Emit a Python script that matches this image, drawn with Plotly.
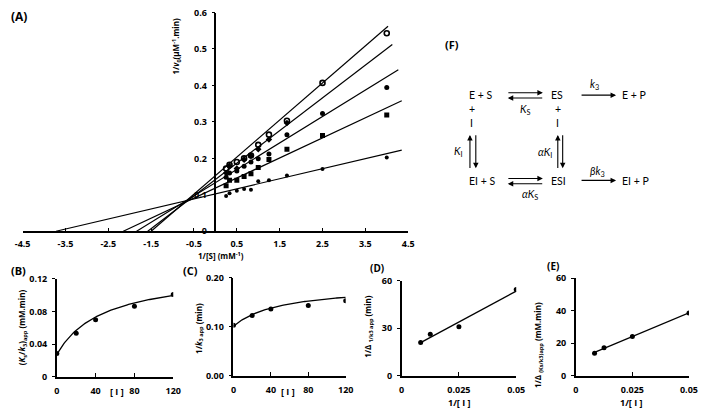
import numpy as np
import plotly.graph_objects as go

W, H = 709, 416


def px(x):
    return x / W


def py(y):
    return 1 - y / H


# ---------------- Panel A data (Lineweaver-Burk) ----------------
inv_s = [0.25, 0.33, 0.5, 0.67, 0.83, 1.0, 1.25, 1.67, 2.5, 4.0]
series_1 = [0.172, 0.182, 0.190, 0.200, 0.208, 0.237, 0.265, 0.303, 0.407, 0.543]
series_2 = [0.160, 0.178, 0.172, 0.196, 0.207, 0.225, 0.252, 0.297]
series_3 = [0.148, 0.160, 0.165, 0.178, 0.190, 0.199, 0.212, 0.265, 0.323, 0.394]
series_4 = [0.125, 0.140, 0.140, 0.150, 0.158, 0.175, 0.197, 0.225, 0.263, 0.319]
series_5 = [0.097, 0.104, 0.111, 0.116, 0.114, 0.137, 0.140, 0.153, 0.171, 0.202]

line_slope = [0.1017, 0.0897, 0.0725, 0.0551, 0.0276]
line_intercept = [0.1526, 0.1417, 0.1334, 0.1185, 0.1027]
line_x_end = [4.03, 4.13, 4.27, 4.35, 4.35]

a_xticks = [-4.5, -3.5, -2.5, -1.5, -0.5, 0.5, 1.5, 2.5, 3.5, 4.5]
a_yticks = [0, 0.1, 0.2, 0.3, 0.4, 0.5, 0.6]

# ---------------- Panels B-E data ----------------
inhib = [0, 20, 40, 80, 120]
ks_k3_app = [0.0285, 0.0535, 0.070, 0.0864, 0.101]
inv_k3_app = [0.103, 0.123, 0.136, 0.143, 0.153]
b_fit = [0.0275, 0.002655, 0.0206]   # (a + b*I)/(1 + c*I)
c_fit = [0.101, 0.00364, 0.0197]

inv_inhib = [0.0083, 0.0125, 0.025, 0.05]
inv_delta_k3 = [21.0, 26.3, 31.0, 54.5]
inv_delta_ks_k3 = [13.9, 17.3, 24.2, 38.6]

fig = go.Figure()
BLACK = "black"
FONT = "Open Sans"
FONT_F = "Lato"


def B(s):
    return "<b>" + s + "</b>"


# Panel A points
markers = [
    dict(symbol="circle-open", size=5, color=BLACK, line=dict(width=1.6, color=BLACK)),
    dict(symbol="diamond", size=5, color=BLACK),
    dict(symbol="circle", size=5, color=BLACK),
    dict(symbol="square", size=5, color=BLACK),
    dict(symbol="circle", size=4, color=BLACK),
]
all_series = [series_1, series_2, series_3, series_4, series_5]
for ys, mk in zip(all_series, markers):
    fig.add_trace(go.Scatter(x=inv_s[:len(ys)], y=ys, mode="markers", marker=mk,
                             xaxis="x", yaxis="y", showlegend=False))
for m, b, xe in zip(line_slope, line_intercept, line_x_end):
    x0 = -b / m
    xs = np.array([x0, xe])
    fig.add_trace(go.Scatter(x=xs, y=m * xs + b, mode="lines",
                             line=dict(color=BLACK, width=1.2),
                             xaxis="x", yaxis="y", showlegend=False))

# Panel B
ii = np.linspace(0, 120, 100)
fig.add_trace(go.Scatter(x=inhib, y=ks_k3_app, mode="markers",
                         marker=dict(size=5, color=BLACK), xaxis="x2", yaxis="y2", showlegend=False))
fig.add_trace(go.Scatter(x=ii, y=(b_fit[0] + b_fit[1] * ii) / (1 + b_fit[2] * ii), mode="lines",
                         line=dict(color=BLACK, width=1.3), xaxis="x2", yaxis="y2", showlegend=False))
# Panel C
fig.add_trace(go.Scatter(x=inhib, y=inv_k3_app, mode="markers",
                         marker=dict(size=5, color=BLACK), xaxis="x3", yaxis="y3", showlegend=False))
fig.add_trace(go.Scatter(x=ii, y=(c_fit[0] + c_fit[1] * ii) / (1 + c_fit[2] * ii), mode="lines",
                         line=dict(color=BLACK, width=1.3), xaxis="x3", yaxis="y3", showlegend=False))
# Panels D, E
for ys, xa, ya in [(inv_delta_k3, "x4", "y4"), (inv_delta_ks_k3, "x5", "y5")]:
    fig.add_trace(go.Scatter(x=inv_inhib, y=ys, mode="markers",
                             marker=dict(size=5, color=BLACK), xaxis=xa, yaxis=ya, showlegend=False))
    k, c = np.polyfit(inv_inhib, ys, 1)
    xs = np.array([min(inv_inhib), max(inv_inhib)])
    fig.add_trace(go.Scatter(x=xs, y=k * xs + c, mode="lines",
                             line=dict(color=BLACK, width=1.3), xaxis=xa, yaxis=ya, showlegend=False))

tickfont = dict(family=FONT, size=9, color=BLACK)
common_x = dict(showline=True, linecolor=BLACK, linewidth=1.5, ticks="inside", ticklen=4,
                tickcolor=BLACK, tickwidth=1, showgrid=False, zeroline=False, tickfont=tickfont,
                fixedrange=True, tickmode="array", ticklabelstandoff=5)
common_y = dict(showline=True, linecolor=BLACK, linewidth=1.5, ticks="outside", ticklen=3,
                tickcolor=BLACK, tickwidth=1, showgrid=False, zeroline=False, tickfont=tickfont,
                fixedrange=True, tickmode="array", ticklabelstandoff=3)


def tv(vals, labels=None):
    labels = labels if labels is not None else [str(v) for v in vals]
    return dict(tickvals=vals, ticktext=[B(t) for t in labels])


fig.update_layout(
    width=W, height=H, margin=dict(l=0, r=0, t=0, b=0),
    paper_bgcolor="white", plot_bgcolor="white", showlegend=False,
    font=dict(family=FONT, color=BLACK),
    xaxis=dict(common_x, domain=[px(15), px(410)], range=[-4.5, 4.5], anchor="y",
               **tv(a_xticks), ),
    yaxis=dict(common_y, domain=[py(231.5), py(5.7)], range=[0, 0.6], anchor="free",
               position=px(212.5), **tv(a_yticks, ["0"] + [str(v) for v in a_yticks[1:]])),
    xaxis2=dict(common_x, domain=[px(50), px(169.3)], range=[0, 120], anchor="y2",
                **tv([0, 40, 80, 120])),
    yaxis2=dict(common_y, domain=[py(381.7), py(280.7)], range=[0, 0.12], anchor="x2",
                **tv([0, 0.04, 0.08, 0.12], ["0", "0.04", "0.08", "0.12"])),
    xaxis3=dict(common_x, domain=[px(231), px(346)], range=[0, 120], anchor="y3",
                **tv([0, 40, 80, 120])),
    yaxis3=dict(common_y, domain=[py(380.7), py(279.3)], range=[0, 0.2], anchor="x3",
                **tv([0, 0.1, 0.2], ["0.00", "0.10", "0.20"])),
    xaxis4=dict(common_x, domain=[px(403.3), px(520.7)], range=[0, 0.05], anchor="y4",
                **tv([0, 0.025, 0.05], ["0", "0.025", "0.05"])),
    yaxis4=dict(common_y, domain=[py(380.7), py(282.7)], range=[0, 60], anchor="x4",
                **tv([0, 30, 60])),
    xaxis5=dict(common_x, domain=[px(581.7), px(697.7)], range=[0, 0.05], anchor="y5",
                **tv([0, 0.025, 0.05], ["0", "0.025", "0.05"])),
    yaxis5=dict(common_y, domain=[py(380.7), py(280)], range=[0, 60], anchor="x5",
                **tv([0, 20, 40, 60])),
)
fig.update_layout(xaxis_ticklabelstandoff=3)

ann = []


def text(x, y, s, size=10, bold=True, angle=0, xanchor="center", family=FONT):
    ann.append(dict(x=px(x), y=py(y), xref="paper", yref="paper",
                    text=B(s) if bold else s, showarrow=False,
                    textangle=angle, xanchor=xanchor, yanchor="middle",
                    font=dict(family=family, size=size, color=BLACK)))


# Panel labels
text(11, 10, "(A)", size=12)
text(11, 272, "(B)", size=11)
text(187, 272, "(C)", size=11)
text(378, 269, "(D)", size=10)
text(558, 267, "(E)", size=10)
text(455, 39, "(F)", size=11)

# Axis titles
text(173, 40, "1/<i>v</i><sub>0</sub>(μM<sup>-1</sup>.min)", size=8, angle=-90)
text(218, 257, "1/[S] (mM<sup>-1</sup>)", size=8)
text(15, 331, "(<i>K</i><sub>s</sub>/<i>k</i><sub>3</sub>)<sub>app</sub> (mM.min)", size=8, angle=-90)
text(196, 332, "1/<i>k</i><sub>3 app</sub> (min)", size=8, angle=-90)
text(370, 330, "1/Δ <sub>1/k3 app</sub> (min)", size=8, angle=-90)
text(543, 349, "1/Δ <sub>(Ks/k3)app</sub> (mM.min)", size=8, angle=-90)
text(112, 397, "[ I ]", size=9)
text(287, 397, "[ I ]", size=9)
text(462, 408, "1/[ I ]", size=9)
text(638, 408, "1/[ I ]", size=9)

# Scheme (F)
for x, y, s in [
    (485, 91, "E + S"), (562, 91, "ES"), (641, 91, "E + P"),
    (530, 106, "<i>K</i><sub>S</sub>"), (601, 80, "<i>k</i><sub>3</sub>"),
    (475, 105, "+"), (475, 120, "I"), (563, 105, "+"), (563, 120, "I"),
    (462, 150, "<i>K</i><sub>I</sub>"), (550, 151, "<i>αK</i><sub>I</sub>"),
    (486, 180, "EI + S"), (564, 180, "ESI"), (643, 180, "EI + P"),
    (535, 194, "<i>αK</i><sub>S</sub>"), (604, 170, "<i>βk</i><sub>3</sub>"),
]:
    text(x, y, s, size=10.5, bold=False, family=FONT_F)


def arrow(x_tail, y_tail, x_tip, y_tip):
    ann.append(dict(x=px(x_tip), y=py(y_tip), xref="paper", yref="paper",
                    ax=x_tail - x_tip, ay=y_tail - y_tip, text="", showarrow=True,
                    arrowhead=2, arrowsize=1, arrowwidth=1.1, arrowcolor=BLACK))


arrow(512, 88.5, 548, 88.5)
arrow(548, 94, 512, 94)
arrow(587, 91, 623, 91)
arrow(473.3, 166.5, 473.3, 132)
arrow(479.3, 132, 479.3, 166.5)
arrow(563.3, 166.5, 563.3, 132)
arrow(568.3, 132, 568.3, 166.5)
arrow(512, 177, 548, 177)
arrow(548, 182.5, 512, 182.5)
arrow(587, 179, 623, 179)

fig.update_layout(annotations=ann)
fig.write_html("out.html")
